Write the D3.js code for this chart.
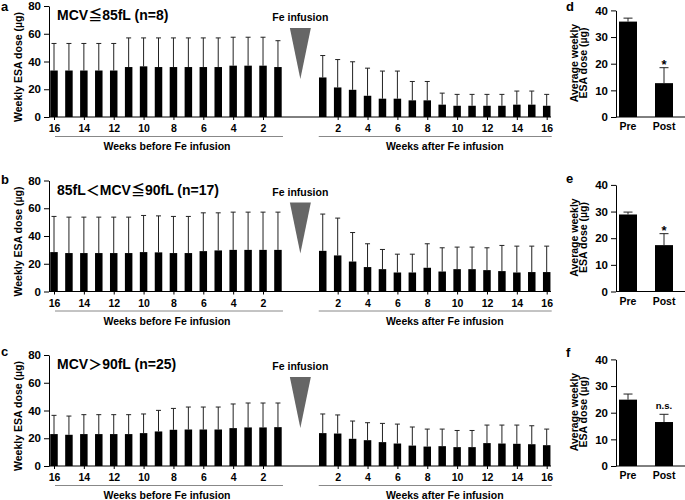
<!DOCTYPE html>
<html><head><meta charset="utf-8">
<script src="https://cdn.jsdelivr.net/npm/d3@7"></script>
<style>
body{margin:0;background:#fff;}
svg{display:block;font-family:"Liberation Sans",Arial,Helvetica,sans-serif;font-weight:bold;}
.cjk{font-family:"Noto Sans CJK JP","Noto Sans CJK SC",sans-serif;font-weight:bold;}
</style></head><body>
<svg id="c" width="685" height="500"></svg>
<script>
// ---------- data ----------
const beforeWeeks = [16,15,14,13,12,11,10,9,8,7,6,5,4,3,2,1];
const afterWeeks  = [1,2,3,4,5,6,7,8,9,10,11,12,13,14,15,16];
const beforeTickWeeks = [16,14,12,10,8,6,4,2];
const afterTickWeeks  = [2,4,6,8,10,12,14,16];
const leftTicks  = [0,20,40,60,80];
const rightTicks = [0,10,20,30,40];
const panelLetters = ["a","b","c"];
const summaryLetters = ["d","e","f"];
const titles = ["MCV≦85fL (n=8)", "85fL＜MCV≦90fL (n=17)", "MCV＞90fL (n=25)"];
const groups = ["Pre","Post"];
const sigLabels = ["*","*","n.s."];

const aBeforeMean = [33.5,33.5,33.5,33.5,33.5,36,36.5,36,36,36,36,36,37,37,37,36];
const aBeforeSD   = [19.5,19.5,19.5,19.5,19.5,21,20.5,21,21,21,21,21,20.5,20.5,20.5,19];
const aAfterMean  = [28.5,21.3,19.6,15.3,13.2,13.2,12,12,8.9,8.1,8.1,8.1,8.1,8.9,8.9,8.1];
const aAfterSD    = [15.8,20.1,20.2,19.9,19.9,19.9,13.6,13.6,8.3,8.2,8.2,8.2,8.2,9.8,9.8,8.2];

const bBeforeMean = [28.4,27.7,27.7,27.7,27.7,27.7,28.4,28.2,27.7,27.7,29.1,29.6,30,30,30,30];
const bBeforeSD   = [25.7,25.9,25.9,25.9,25.9,25.9,26.4,26.3,26.4,26.4,27.6,27.1,27.2,27.2,27.2,27.2];
const bAfterMean  = [29.3,26.0,21.6,17.6,16.1,13.7,13.7,17.1,14.4,16.1,16.1,15.4,14.7,13.7,14.0,14.0];
const bAfterSD    = [26.5,26.9,20.9,16.8,14.2,13.2,13.2,17.3,17.1,15.9,15.9,16.1,18.5,19.0,18.7,18.7];

const cBeforeMean = [23.0,22.5,23.0,23.0,23.0,23.0,23.7,24.9,26.1,26.3,26.3,26.3,27.3,27.8,27.8,28.0];
const cBeforeSD   = [13.5,13.5,14.0,14.0,14.0,14.0,13.8,15.2,15.4,16.2,16.2,16.2,17.4,17.6,17.6,17.4];
const cAfterMean  = [23.7,23.4,19.6,18.6,17.2,16.2,14.7,14.0,14.3,13.6,13.6,16.5,16.2,16.0,15.7,15.0];
const cAfterSD    = [13.8,13.4,12.8,12.6,13.5,14.0,13.4,12.6,12.3,12.0,12.0,13.0,13.3,13.5,13.3,11.6];

const dMean = [35.8, 12.7], dSD = [1.3, 5.8];
const eMean = [28.9, 17.4], eSD = [0.9, 4.3];
const fMean = [24.9, 16.5], fSD = [2.1, 2.9];

// ---------- layout ----------
const panels = [
  {before:aBeforeMean, beforeSD:aBeforeSD, after:aAfterMean, afterSD:aAfterSD, sm:dMean, ssd:dSD},
  {before:bBeforeMean, beforeSD:bBeforeSD, after:bAfterMean, afterSD:bAfterSD, sm:eMean, ssd:eSD},
  {before:cBeforeMean, beforeSD:cBeforeSD, after:cAfterMean, afterSD:cAfterSD, sm:fMean, ssd:fSD}
];
const tops = [6, 180.5, 355];
const plotH = 111;
const letterY = [10.5, 184, 356];
const sumLetterY = [11, 183, 357];

const svg = d3.select("#c");
const slots = [...beforeWeeks.map(w=>"b"+w), "g1", "g2", ...afterWeeks.map(w=>"a"+w)];
const x = d3.scalePoint().domain(slots).range([54, 546.7]);
const bw = 7.5, cap = 5;
const tickSlots = [...beforeTickWeeks.map(w=>"b"+w), ...afterTickWeeks.map(w=>"a"+w)];

function styleAxis(sel, fs){
  sel.attr("font-family", null).attr("font-size", fs);
  sel.selectAll("text").attr("fill","#000");
  sel.selectAll("line,path").attr("stroke","#000");
}

function titleText(sel, str){
  // split so that the full-width symbols use a CJK font
  const parts = str.split(/([≦＜＞])/).filter(s=>s.length);
  sel.selectAll("tspan").data(parts).join("tspan")
    .attr("class", s => /[≦＜＞]/.test(s) ? "cjk" : null)
    .text(s => s);
}

panels.forEach((p, i) => {
  const T = tops[i], B = T + plotH;
  const y = d3.scaleLinear().domain([0,80]).range([B, T]);
  const g = svg.append("g");
  const data = [
    ...p.before.map((m,k)=>({slot:"b"+beforeWeeks[k], m, sd:p.beforeSD[k]})),
    ...p.after.map((m,k)=>({slot:"a"+afterWeeks[k], m, sd:p.afterSD[k]}))
  ];
  // error bars
  const eb = g.append("g").attr("stroke","#222").attr("stroke-width",1);
  eb.selectAll("line.v").data(data).join("line").attr("class","v")
    .attr("x1",d=>x(d.slot)).attr("x2",d=>x(d.slot))
    .attr("y1",d=>y(d.m)).attr("y2",d=>y(d.m+d.sd));
  eb.selectAll("line.c").data(data).join("line").attr("class","c")
    .attr("x1",d=>x(d.slot)-cap/2).attr("x2",d=>x(d.slot)+cap/2)
    .attr("y1",d=>y(d.m+d.sd)).attr("y2",d=>y(d.m+d.sd));
  // bars
  g.append("g").selectAll("rect").data(data).join("rect")
    .attr("x",d=>x(d.slot)-bw/2).attr("width",bw)
    .attr("y",d=>y(d.m)).attr("height",d=>B-y(d.m)).attr("fill","#000");
  // y axis
  const ya = g.append("g").attr("transform","translate(49,0)")
    .call(d3.axisLeft(y).tickValues(leftTicks).tickSize(5).tickPadding(3).tickSizeOuter(0));
  styleAxis(ya, 11.5);
  // x axis
  g.append("line").attr("x1",49).attr("x2",551).attr("y1",B).attr("y2",B).attr("stroke","#000");
  const xa = g.append("g").attr("transform",`translate(0,${B})`)
    .call(d3.axisBottom(x).tickValues(tickSlots).tickSize(3).tickPadding(5)
      .tickFormat(s=>s.slice(1)));
  xa.select(".domain").remove();
  styleAxis(xa, 10.5);
  // group underlines
  const uy = B + 19.5;
  g.append("line").attr("x1",x("b16")+1).attr("x2",x("b1")+5).attr("y1",uy).attr("y2",uy)
    .attr("stroke","#888");
  g.append("line").attr("x1",x("a1")-4).attr("x2",x("a16")+5).attr("y1",uy).attr("y2",uy)
    .attr("stroke","#888");
  g.append("text").attr("x",(x("b16")+x("b1"))/2+1).attr("y",B+33).attr("text-anchor","middle")
    .attr("font-size",10.5).text("Weeks before Fe infusion");
  g.append("text").attr("x",(x("a1")+x("a16"))/2+10).attr("y",B+33).attr("text-anchor","middle")
    .attr("font-size",10.5).text("Weeks after Fe infusion");
  // y label
  g.append("text").attr("transform",`translate(22,${B-50}) rotate(-90)`).attr("text-anchor","middle")
    .attr("font-size",10.5).text("Weekly ESA dose (µg)");
  // panel letter & title
  g.append("text").attr("x",1).attr("y",letterY[i]).attr("font-size",13).text(panelLetters[i]);
  g.append("text").attr("x",57).attr("y",T+14).attr("font-size",14).call(titleText, titles[i]);
  // Fe infusion marker
  const cx = (x("g1")+x("g2"))/2;
  g.append("text").attr("x",cx).attr("y",T+15).attr("text-anchor","middle")
    .attr("font-size",10.5).text("Fe infusion");
  g.append("path").attr("d",`M${cx-10.5},${T+22}L${cx+10.5},${T+22}L${cx},${T+73}Z`).attr("fill","#666");

  // ---------- summary panel ----------
  const xs = d3.scaleBand().domain(groups).range([610,682]).paddingInner(0.5).paddingOuter(0.25);
  const ys = d3.scaleLinear().domain([0,40]).range([B, B-106.6]);
  const sd = groups.map((gname,k)=>({gname, m:p.sm[k], sd:p.ssd[k]}));
  const s = svg.append("g");
  const seb = s.append("g").attr("stroke","#222").attr("stroke-width",1);
  seb.selectAll("line.v").data(sd).join("line").attr("class","v")
    .attr("x1",d=>xs(d.gname)+xs.bandwidth()/2).attr("x2",d=>xs(d.gname)+xs.bandwidth()/2)
    .attr("y1",d=>ys(d.m)).attr("y2",d=>ys(d.m+d.sd));
  seb.selectAll("line.c").data(sd).join("line").attr("class","c")
    .attr("x1",d=>xs(d.gname)+xs.bandwidth()/2-4.5).attr("x2",d=>xs(d.gname)+xs.bandwidth()/2+4.5)
    .attr("y1",d=>ys(d.m+d.sd)).attr("y2",d=>ys(d.m+d.sd));
  s.append("g").selectAll("rect").data(sd).join("rect")
    .attr("x",d=>xs(d.gname)).attr("width",xs.bandwidth())
    .attr("y",d=>ys(d.m)).attr("height",d=>B-ys(d.m)).attr("fill","#000");
  const sya = s.append("g").attr("transform","translate(616,0)")
    .call(d3.axisLeft(ys).tickValues(rightTicks).tickSize(5).tickPadding(3).tickSizeOuter(0));
  styleAxis(sya, 11.5);
  s.append("line").attr("x1",616).attr("x2",685).attr("y1",B).attr("y2",B).attr("stroke","#000");
  const sxa = s.append("g").attr("transform",`translate(0,${B})`)
    .call(d3.axisBottom(xs).tickSize(0).tickPadding(6));
  sxa.select(".domain").remove();
  styleAxis(sxa, 10.5);
  // significance
  const post = sd[1];
  const sig = sigLabels[i];
  s.append("text").attr("x",xs("Post")+xs.bandwidth()/2)
    .attr("y", sig==="*" ? ys(post.m+post.sd)+1 : ys(post.m+post.sd)-5.5)
    .attr("text-anchor","middle").attr("font-size", sig==="*"?13:9.5).text(sig);
  // y label two lines
  const cy = B - 54;
  s.append("text").attr("transform",`translate(578,${cy}) rotate(-90)`).attr("text-anchor","middle")
    .attr("font-size",10.5).text("Average weekly");
  s.append("text").attr("transform",`translate(587,${cy}) rotate(-90)`).attr("text-anchor","middle")
    .attr("font-size",10.5).text("ESA dose (µg)");
  s.append("text").attr("x",566).attr("y",sumLetterY[i]).attr("font-size",13).text(summaryLetters[i]);
});
</script>
</body></html>
